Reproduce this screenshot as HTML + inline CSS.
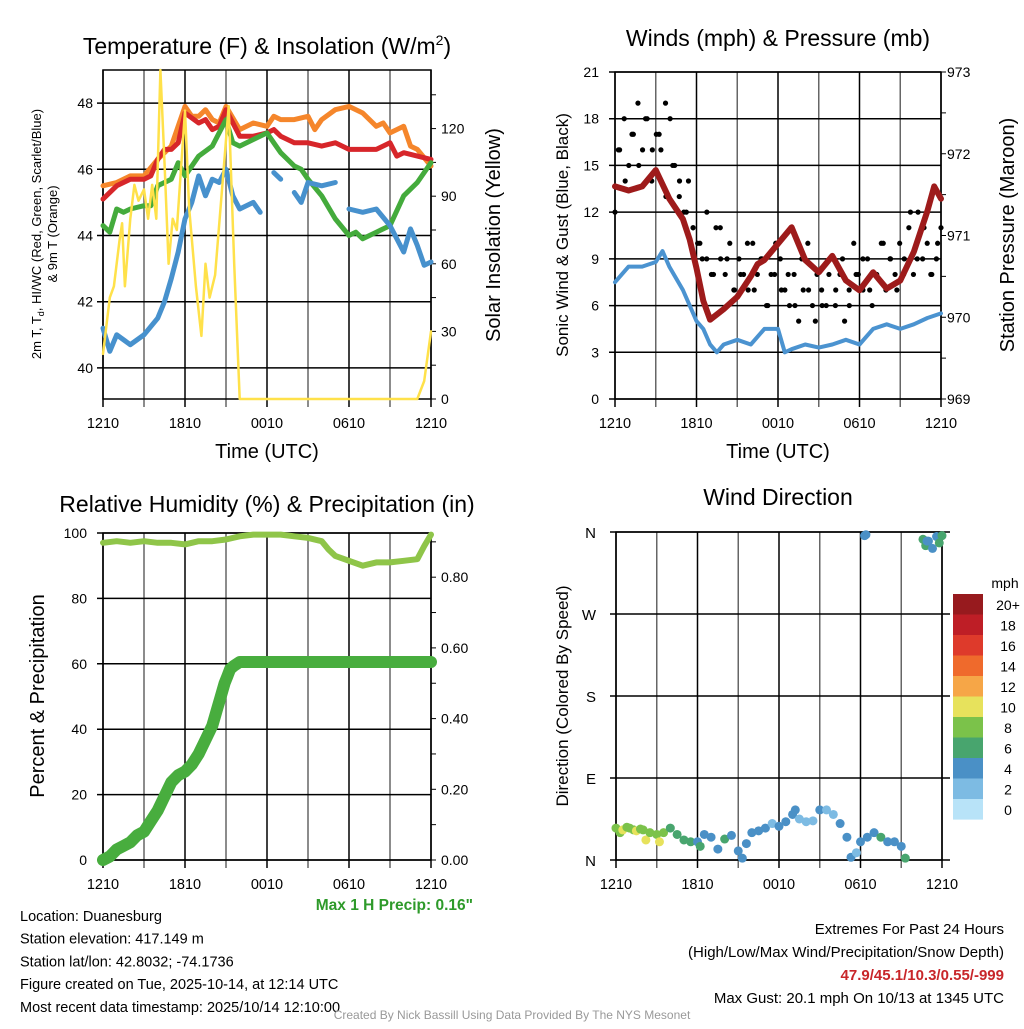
<!DOCTYPE html>
<html><head><meta charset="utf-8"><style>
body{margin:0;background:#fff;width:1024px;height:1024px;overflow:hidden}
svg{font-family:"Liberation Sans",sans-serif}
</style></head><body>
<svg id="s" width="1024" height="1024" viewBox="0 0 1024 1024"></svg>
<script>
// ---------- DATA ----------
const tempT=[0,1,2,3,3.5,4,4.5,5,5.5,6,7,7.5,8,8.5,9,10,11,12,12.5,13,14,15,16,17,18,19,20,21,21.5,22,23,24];
const tempV=[45.1,45.5,45.7,45.7,45.8,46.3,46.6,46.6,46.8,47.7,47.4,47.5,47.2,47.3,47.8,47,47,47.1,47.2,47,46.8,46.8,46.7,46.8,46.6,46.6,46.6,46.8,46.4,46.5,46.4,46.3];
const t9T=[0,1,2,3,4,5,6,6.5,7,7.5,8,8.5,9,10,11,12,12.5,13,14,15,15.5,16,17,18,19,20,20.5,21,22,22.5,23,24];
const t9V=[45.5,45.6,45.8,45.8,46.3,46.7,47.9,47.6,47.6,47.8,47.5,47.4,47.9,47.2,47.4,47.3,47.6,47.5,47.5,47.6,47.2,47.5,47.8,47.9,47.7,47.3,47.4,47.1,47.3,46.7,46.6,46.1];
const tdT=[0,0.5,1,1.5,2,3,3.5,4,5,5.5,6,7,8,9,9.5,10,11,12,12.5,13,14,14.5,15,16,17,18,18.5,19,20,21,22,23,24];
const tdV=[44.3,44.1,44.8,44.7,44.8,44.9,44.9,45.5,45.7,46.2,45.8,46.4,46.7,47.5,46.8,46.7,46.9,47.1,46.8,46.5,46.1,46.0,45.7,45.2,44.5,44.0,44.1,43.9,44.1,44.3,45.2,45.6,46.2];
const hiT=[0,0.5,1,2,3,4,4.5,5,5.5,6,6.5,7,7.5,8,8.5,9,9.5,10,11,11.5,12,12.5,13,13.5,14,14.5,15,16,17,17.3,18,19,20,21,22,22.5,23,23.5,24];
const hiV=[41.2,40.5,41,40.7,41,41.5,42,42.7,43.5,44.5,45,45.8,45.2,45.7,45.6,46,45.2,44.8,45,44.7,null,45.9,45.7,null,45.3,45.0,45.6,45.5,45.6,null,44.8,44.7,44.8,44.3,43.5,44.2,43.7,43.1,43.2];
const solT=[0,0.5,0.8,1.2,1.4,1.6,2,2.3,2.6,3,3.3,3.6,3.9,4.2,4.5,4.8,5.1,5.4,6,6.3,6.8,7.2,7.5,7.8,8.2,8.8,9.2,9.6,10,23,23.5,24];
const solV=[20,45,50,70,78,50,80,95,88,93,80,95,80,146,105,60,80,75,128,85,50,28,60,45,55,100,130,60,0,0,8,30];
const windT=[0,1,2,3,3.5,4,5,6,6.5,7,7.5,8,9,10,11,12,12.5,13,14,15,16,17,18,19,20,21,22,23,24];
const windV=[7.5,8.5,8.5,8.8,9.5,8.5,7,5,4.5,3.5,3,3.5,3.8,3.5,4.5,4.5,3,3.2,3.5,3.3,3.5,3.8,3.5,4.5,4.8,4.5,4.8,5.2,5.5];
const presT=[0,1,2,3,4,5,5.5,6,6.5,7,8,9,10,10.5,11,12,13,13.5,14,15,16,17,18,19,20,21,22,23,23.5,24];
const presV=[971.6,971.55,971.6,971.8,971.45,971.2,970.95,970.6,970.2,969.97,970.1,970.25,970.5,970.65,970.7,970.9,971.1,970.9,970.7,970.55,970.75,970.45,970.33,970.55,970.35,970.45,970.8,971.3,971.6,971.45];
const gustA=[12,16,18,15,17,19,16,18,14,17,16,19,18,15,13,12,14,11,10,9,12,8,11,9,8,10,7,9,8,7,10,8,9,6,8,10,9,7,6,8,5,7,10,6,8,7,6,9,6,8,5,7,10,8,7,9,6,8,10,7,9,8,10,9,11,8,12,9,10,8,9,11];
const gustB=[16,14,17,15,18,16,17,13,15,14,12,11,10,9,8,11,9,7,8,10,7,9,6,8,7,8,6,9,7,5,6,8,7,9,6,8,9,7,8,10,9,7,8,12,9,11,8,10];
const rhT=[0,1,2,3,4,5,6,7,8,9,10,11,12,13,14,15,16,16.5,17,18,19,20,21,22,23,23.5,24];
const rhV=[97,97.5,97,97.5,97,97,96.5,97.5,97.5,98,99,99.5,99.5,99.5,99,98.5,97.5,95,93,91.5,90,91,91,91.5,92,96,99.5];
const prT=[0,0.5,1,1.5,2,2.5,3,3.5,4,4.5,5,5.5,6,6.5,7,7.5,8,8.3,8.6,8.9,9.1,9.3,9.6,10,11,12,13,14,16,18,20,22,24];
const prV=[0,0.01,0.03,0.04,0.05,0.07,0.08,0.11,0.14,0.18,0.22,0.24,0.25,0.27,0.3,0.34,0.38,0.42,0.46,0.5,0.52,0.54,0.55,0.56,0.56,0.56,0.56,0.56,0.56,0.56,0.56,0.56,0.56];
const dirT=[0,0.3,0.5,0.8,1,1.3,1.5,1.8,2,2.2,2.5,3,3.2,3.5,4,4.5,5,5.5,6,6.2,6.5,7,7.5,8,8.5,9,9.3,9.6,10,10.5,11,11.5,12,12.5,13,13.2,13.5,14,14.5,15,15.5,16,16.5,17,17.3,17.7,18,18.5,19,19.5,20,20.5,21,21.3,18.3,18.4,22.6,22.8,23,23.3,23.6,24,22.9,23.8];
const dirD=[35,30,33,36,35,33,32,34,33,22,30,28,20,30,35,28,22,20,20,15,28,25,12,23,27,10,2,18,30,32,35,40,37,42,50,55,45,42,43,55,55,50,40,25,3,8,20,25,30,25,20,20,15,2,356,357,352,345,350,342,355,356,350,348];
const dirS=[9,8,10,9,8,9,10,9,8,10,8,8,10,8,6,7,6,6,5,6,4,4,4,6,4,4,4,4,4,4,4,3,4,4,4,4,3,2,3,4,2,3,4,4,4,3,4,4,4,6,4,4,4,6,4,4,6,6,5,4,5,6,4,6];
const cbLabels=["20+","18","16","14","12","10","8","6","4","2","0"];
const cbColors=["#971a1e","#be1e26","#de3a2b","#ef6a2c","#f6a647","#e7e25c","#7bc24a","#48a56e","#4a90c6","#7dbbe3","#b8e3f8"];

// ---------- helpers ----------
const S=document.getElementById('s');const NS="http://www.w3.org/2000/svg";
function el(tag,at,par){const e=document.createElementNS(NS,tag);for(const k in at)e.setAttribute(k,at[k]);(par||S).appendChild(e);return e;}
function txt(x,y,s,size,anchor,extra,par){const e=el('text',Object.assign({x:x,y:y,'font-size':size,'text-anchor':anchor||'middle',fill:'#000'},extra||{}),par);e.textContent=s;return e;}
function lin(a,b,c,d){return v=>c+(v-a)/(b-a)*(d-c);}
function frame(x0,x1,y0,y1,lt,ly,name){
  const g=el('g',{});
  
  
  for(let h=0;h<=24;h+=3){const x=x0+(x1-x0)*h/24;el('line',{x1:x,x2:x,y1:y0,y2:y1+8,stroke:(h%6==0?'#000':'#666'),'stroke-width':1.5},g);}
  lt.forEach(v=>{const y=ly(v);el('line',{x1:x0-6,x2:x1+ (name=='dir'?8:0),y1:y,y2:y,stroke:'#000','stroke-width':1.5},g);});
  el('rect',{x:x0,y:y0,width:x1-x0,height:y1-y0,fill:'none',stroke:'#000','stroke-width':1.5},g);
  ['1210','1810','0010','0610','1210'].forEach((l,i)=>{const t=txt(x0+(x1-x0)*i/4,y1+29,l,14.5);});
}
function path(xs,ys,fx,fy,color,w,name){
  let d='',pen=false;
  for(let i=0;i<xs.length;i++){if(ys[i]===null){pen=false;continue;}d+=(pen?'L':'M')+fx(xs[i]).toFixed(1)+','+fy(ys[i]).toFixed(1);pen=true;}
  const p=el('path',{d:d,fill:'none',stroke:color,'stroke-width':w,'stroke-linejoin':'round','stroke-linecap':'round'});
  
  
  return p;
}

// ---------- Panel 1 ----------
{const x0=103,x1=431,y0=70,y1=399;
const fx=lin(0,24,x0,x1),fy=lin(39.06,49.0,y1,y0),fr=lin(0,146,y1,y0);
frame(x0,x1,y0,y1,[40,42,44,46,48],fy,'temp');
[40,42,44,46,48].forEach(v=>txt(x0-10,fy(v)+5,v,14,'end'));
[0,30,60,90,120].forEach(v=>{txt(x1+10,fr(v)+5,v,14,'start');});
for(let v=0;v<=135;v+=15)el('line',{x1:x1,x2:x1+5,y1:fr(v),y2:fr(v),stroke:'#000'});
path(t9T,t9V,fx,fy,'#f5862b',5,'orange-9m-temp-line');
path(tempT,tempV,fx,fy,'#d7262a',5,'red-2m-temp-line');
path(tdT,tdV,fx,fy,'#44ab3c',5,'green-dewpoint-line');
path(hiT,hiV,fx,fy,'#4791cd',5,'blue-hiwc-line');
path(solT,solV,fx,fr,'#ffe14a',2.5,'yellow-insolation-line');
const t=txt(267,54,'Temperature (F) & Insolation (W/m',23);const ts=el('tspan',{dy:-9,'font-size':14},t);ts.textContent='2';const ts2=el('tspan',{dy:9},t);ts2.textContent=')';

const a=el('text',{transform:'translate(41,234) rotate(-90)','font-size':13,'text-anchor':'middle'});a.innerHTML='2m T, T<tspan font-size="9" dy="3">d</tspan><tspan dy="-3">, HI/WC (Red, Green, Scarlet/Blue)</tspan>';

txt(0,0,'& 9m T (Orange)',13,'middle',{transform:'translate(57,234) rotate(-90)'});
const b=txt(0,0,'Solar Insolation (Yellow)',20,'middle',{transform:'translate(500,235) rotate(-90)'});
txt(267,458,'Time (UTC)',20);}

// ---------- Panel 2 ----------
{const x0=615,x1=941,y0=72,y1=399;
const fx=lin(0,24,x0,x1),fy=lin(0,21,y1,y0),fp=lin(969,973,y1,y0);
frame(x0,x1,y0,y1,[0,3,6,9,12,15,18,21],fy,'wind');
[0,3,6,9,12,15,18,21].forEach(v=>txt(x0-16,fy(v)+5,v,14,'end'));
[969,970,971,972,973].forEach(v=>{txt(x1+6,fp(v)+5,v,14,'start');});
for(let v=969;v<=973;v+=0.5)el('line',{x1:x1,x2:x1+5,y1:fp(v),y2:fp(v),stroke:'#000'});
path(windT,windV,fx,fy,'#4b93d0',4,'blue-wind-line');
gustA.forEach((v,i)=>{const c=el('circle',{cx:fx(i*24/(gustA.length-1)),cy:fy(v),r:2.6,fill:'#000'});});
gustB.forEach((v,i)=>{const c=el('circle',{cx:fx((i+0.5)*24/gustB.length),cy:fy(v),r:2.6,fill:'#000'});});
path(presT,presV,fx,fp,'#9e1b1b',6,'maroon-pressure-line');
txt(778,46,'Winds (mph) & Pressure (mb)',23);
const a=txt(0,0,'Sonic Wind & Gust (Blue, Black)',17,'middle',{transform:'translate(568,235) rotate(-90)'});
txt(0,0,'Station Pressure (Maroon)',20,'middle',{transform:'translate(1014,235) rotate(-90)'});
txt(778,458,'Time (UTC)',20);}

// ---------- Panel 3 ----------
{const x0=103,x1=431,y0=533,y1=860;
const fx=lin(0,24,x0,x1),fy=lin(0,100,y1,y0),fr=lin(0,0.925,y1,y0);
frame(x0,x1,y0,y1,[0,20,40,60,80,100],fy,'rh');
[0,20,40,60,80,100].forEach(v=>txt(x0-16,fy(v)+5,v,14,'end'));
[0,0.2,0.4,0.6,0.8].forEach(v=>txt(x1+10,fr(v)+5,v.toFixed(2),14,'start'));
for(let v=0;v<=0.9;v+=0.1)el('line',{x1:x1,x2:x1+5,y1:fr(v),y2:fr(v),stroke:'#000'});
path(rhT,rhV,fx,fy,'#8fc549',6,'rh-line');
path(prT,prV,fx,fr,'#48ad3e',12,'precip-line');
txt(267,512,'Relative Humidity (%) & Precipitation (in)',23);
const a=txt(0,0,'Percent & Precipitation',20,'middle',{transform:'translate(44,696) rotate(-90)'});
txt(473,910,'Max 1 H Precip: 0.16"',15.5,'end',{fill:'#2e9a2a','font-weight':'bold'});}

// ---------- Panel 4 ----------
{const x0=616,x1=942,y0=532,y1=860;
const fx=lin(0,24,x0,x1),fy=lin(0,360,y1,y0);
frame(x0,x1,y0,y1,[0,90,180,270,360],fy,'dir');
['N','E','S','W','N'].forEach((l,i)=>txt(x0-20,fy(i*90)+6,l,15,'end'));
function col(s){let i=10-Math.min(10,Math.floor(s/2));return cbColors[i];}
dirT.forEach((t,i)=>{const c=el('circle',{cx:fx(t),cy:fy(dirD[i]),r:4.5,fill:col(dirS[i])});});
txt(778,505,'Wind Direction',23);
const a=txt(0,0,'Direction (Colored By Speed)',17,'middle',{transform:'translate(568,696) rotate(-90)'});
const cg=el('g',{});
cbColors.forEach((c,i)=>{el('rect',{x:953,y:594+i*20.5,width:30,height:20.6,fill:c},cg);txt(1008,610+i*20.5,cbLabels[i],14,'middle',{},cg);});
txt(1005,588,'mph',14);}

// ---------- footer ----------
const L=["Location: Duanesburg","Station elevation: 417.149 m","Station lat/lon: 42.8032; -74.1736","Figure created on Tue, 2025-10-14, at 12:14 UTC","Most recent data timestamp: 2025/10/14 12:10:00"];
L.forEach((s,i)=>txt(20,921+i*22.7,s,14.5,'start'));
txt(1004,934,'Extremes For Past 24 Hours',15,'end');
txt(1004,957,'(High/Low/Max Wind/Precipitation/Snow Depth)',15,'end');
txt(1004,980,'47.9/45.1/10.3/0.55/-999',15,'end',{fill:'#c8262a','font-weight':'bold'});
txt(1004,1003,'Max Gust: 20.1 mph On 10/13 at 1345 UTC',15,'end');
txt(512,1019,'Created By Nick Bassill Using Data Provided By The NYS Mesonet',12,'middle',{fill:'#999'});
</script>
</body></html>
